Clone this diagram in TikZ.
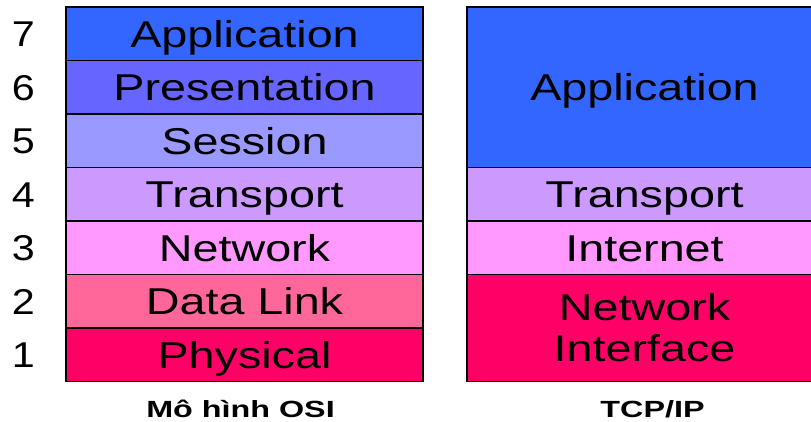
\documentclass[tikz,border=0pt]{standalone}
\usepackage{fontspec}
\setmainfont{Liberation Sans}
\usepackage{graphicx}
\usetikzlibrary{positioning}

% 層の色
\definecolor{lyApp}{HTML}{3366FF}
\definecolor{lyPre}{HTML}{6666FF}
\definecolor{lySes}{HTML}{9999FF}
\definecolor{lyTra}{HTML}{CC99FF}
\definecolor{lyNet}{HTML}{FF99FF}
\definecolor{lyDat}{HTML}{FF6699}
\definecolor{lyPhy}{HTML}{FF0066}

% 横に伸ばした文字
\newcommand{\wide}[1]{\scalebox{1.25}[1]{#1}}
\newcommand{\widecap}[1]{\scalebox{1.38}[1]{#1}}

\begin{document}
\begin{tikzpicture}[x=1bp,y=-1bp,
    layer/.style={draw=black, line width=1.5bp, inner sep=0pt, outer sep=0pt,
      minimum width=357bp, minimum height=53.5bp,
      text height=27bp, text depth=0bp,
      font=\fontsize{37.5}{41}\selectfont},
    num/.style={inner sep=0pt, text height=26bp, text depth=0bp,
      font=\fontsize{36}{40}\selectfont},
    caption/.style={inner sep=0pt, text height=17bp, text depth=0bp,
      font=\bfseries\fontsize{23.5}{26}\selectfont}]

    % 画像の大きさ
    \useasboundingbox (0,0) rectangle (811,421);

    % OSI参照モデル（7層）
    \node [layer, anchor=north west, fill=lyApp] (osi7) at (66,7) {\wide{Application}};
    \foreach \n/\t/\c [remember=\n as \p (initially 7)] in
        {6/Presentation/lyPre, 5/Session/lySes, 4/Transport/lyTra,
         3/Network/lyNet, 2/Data Link/lyDat, 1/Physical/lyPhy} {
        \node [layer, fill=\c, below=0pt of osi\p] (osi\n) {\wide{\t}};
    }

    % 層の番号
    \foreach \n in {1,...,7} {
        \node [num, anchor=center, left=31bp of osi\n] (num\n) {\scalebox{1.15}[1]{\n}};
    }

    % TCP/IPモデル（4層）
    \node [layer, anchor=north west, fill=lyApp, minimum width=355bp,
        minimum height=160.5bp] (tcpApp) at (467,7) {\wide{Application}};
    \node [layer, fill=lyTra, minimum width=355bp, below=0pt of tcpApp]
        (tcpTra) {\wide{Transport}};
    \node [layer, fill=lyNet, minimum width=355bp, below=0pt of tcpTra]
        (tcpInt) {\wide{Internet}};
    \node [layer, fill=lyPhy, minimum width=355bp, minimum height=107bp,
        text height=, text depth=, align=center, below=0pt of tcpInt]
        (tcpNI) {\wide{Network}\\\wide{Interface}};

    % 図の説明
    \node [caption, below=18.5bp of osi1, xshift=-4bp] (capOSI) {\widecap{Mô hình OSI}};
    \node [caption, below=18.5bp of tcpNI, xshift=8bp] (capTCP) {\widecap{TCP/IP}};
    %
\end{tikzpicture}
\end{document}
